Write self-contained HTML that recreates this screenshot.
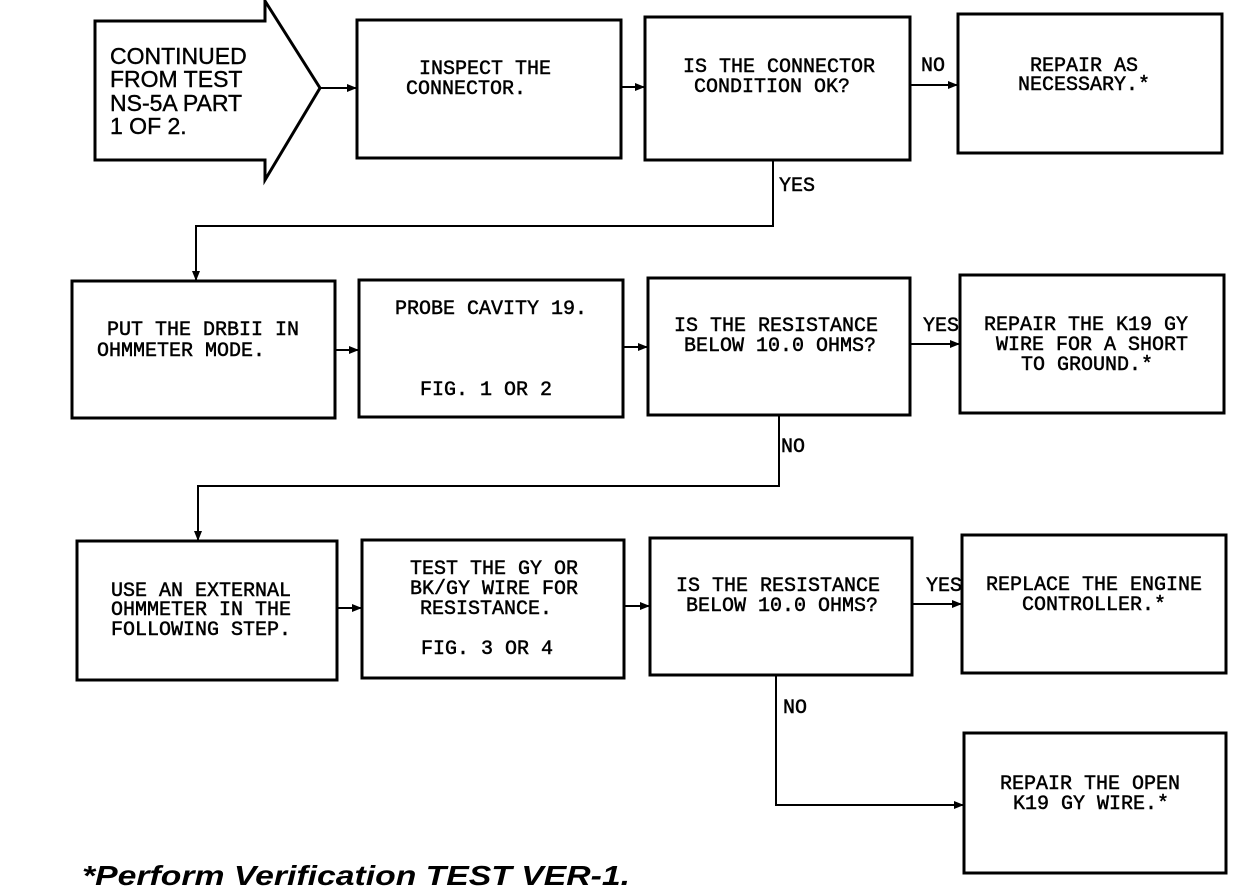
<!DOCTYPE html>
<html><head><style>
html,body{margin:0;padding:0;background:#fff;}
svg{display:block}
.m{font-family:"Liberation Mono",monospace;font-size:20px;fill:#000;stroke:#000;stroke-width:0.5}
.s{font-family:"Liberation Sans",sans-serif;font-size:23px;fill:#000;stroke:#000;stroke-width:0.4}
</style></head><body>
<svg width="1248" height="888" viewBox="0 0 1248 888" xmlns="http://www.w3.org/2000/svg">
<defs><marker id="a" markerWidth="10" markerHeight="8" refX="9" refY="4" orient="auto" markerUnits="userSpaceOnUse"><path d="M0,0 L10,4 L0,8 z" fill="#000"/></marker></defs>
<g fill="none" stroke="#000" stroke-width="3">
<path d="M95,21 H265 V1 L320,88 L265,180 V160 H95 Z"/>
<rect x="357" y="20" width="264" height="138"/>
<rect x="645" y="17" width="265" height="143"/>
<rect x="958" y="14" width="264" height="139"/>
<rect x="72" y="281" width="263" height="137"/>
<rect x="359" y="280" width="264" height="137"/>
<rect x="648" y="278" width="262" height="137"/>
<rect x="960" y="275" width="264" height="138"/>
<rect x="77" y="541" width="260" height="139"/>
<rect x="362" y="540" width="262" height="138"/>
<rect x="650" y="538" width="262" height="137"/>
<rect x="962" y="535" width="264" height="138"/>
<rect x="964" y="733" width="262" height="140"/>
</g>
<g fill="none" stroke="#000" stroke-width="2" marker-end="url(#a)">
<path d="M320,88 H356"/>
<path d="M621,87 H644"/>
<path d="M910,85 H957"/>
<path d="M773,160 V226 H196 V280"/>
<path d="M335,350 H358"/>
<path d="M623,347 H647"/>
<path d="M910,344 H959"/>
<path d="M779,415 V486 H198 V540"/>
<path d="M337,608 H361"/>
<path d="M624,606 H649"/>
<path d="M912,604 H961"/>
<path d="M776,675 V805 H963"/>
</g>
<g class="s">
<text x="110" y="64">CONTINUED</text>
<text x="110" y="87">FROM TEST</text>
<text x="110" y="111">NS-5A PART</text>
<text x="110" y="134">1 OF 2.</text>
</g>
<g class="m">
<text x="419" y="74">INSPECT THE</text>
<text x="406" y="94">CONNECTOR.</text>
<text x="683" y="72">IS THE CONNECTOR</text>
<text x="694" y="92">CONDITION OK?</text>
<text x="921" y="71">NO</text>
<text x="1030" y="71">REPAIR AS</text>
<text x="1018" y="90">NECESSARY.*</text>
<text x="779" y="191">YES</text>
<text x="107" y="335">PUT THE DRBII IN</text>
<text x="97" y="356">OHMMETER MODE.</text>
<text x="395" y="314">PROBE CAVITY 19.</text>
<text x="420" y="395">FIG. 1 OR 2</text>
<text x="674" y="331">IS THE RESISTANCE</text>
<text x="684" y="351">BELOW 10.0 OHMS?</text>
<text x="923" y="331">YES</text>
<text x="984" y="330">REPAIR THE K19 GY</text>
<text x="996" y="350">WIRE FOR A SHORT</text>
<text x="1021" y="370">TO GROUND.*</text>
<text x="781" y="452">NO</text>
<text x="111" y="596">USE AN EXTERNAL</text>
<text x="111" y="615">OHMMETER IN THE</text>
<text x="111" y="635">FOLLOWING STEP.</text>
<text x="410" y="574">TEST THE GY OR</text>
<text x="410" y="594">BK/GY WIRE FOR</text>
<text x="420" y="614">RESISTANCE.</text>
<text x="421" y="654">FIG. 3 OR 4</text>
<text x="676" y="591">IS THE RESISTANCE</text>
<text x="686" y="611">BELOW 10.0 OHMS?</text>
<text x="926" y="591">YES</text>
<text x="986" y="590">REPLACE THE ENGINE</text>
<text x="1022" y="610">CONTROLLER.*</text>
<text x="783" y="713">NO</text>
<text x="1000" y="789">REPAIR THE OPEN</text>
<text x="1013" y="809">K19 GY WIRE.*</text>
</g>
<text x="82" y="885" textLength="548" lengthAdjust="spacingAndGlyphs" style="font-family:'Liberation Sans',sans-serif;font-size:28px;font-weight:bold;font-style:italic">*Perform Verification TEST VER-1.</text>
</svg>
</body></html>
